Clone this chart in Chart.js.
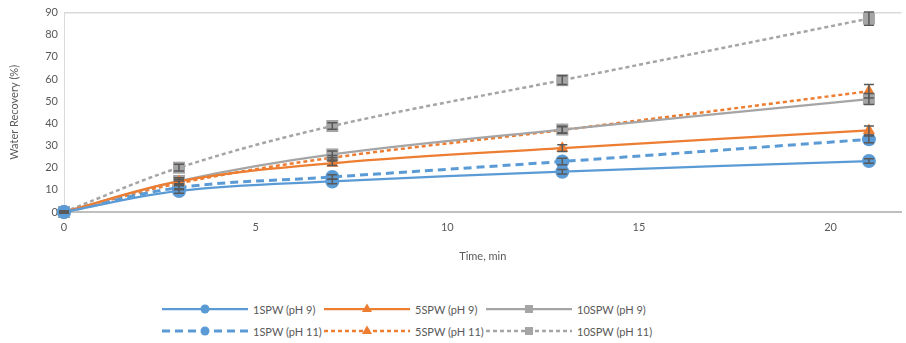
<!DOCTYPE html>
<html>
<head>
<meta charset="utf-8">
<script src="https://cdn.jsdelivr.net/npm/chart.js@4/dist/chart.umd.min.js"></script>
<style>
  body { margin: 0; background: #fff; font-family: Lato, "Liberation Sans", sans-serif; overflow: hidden; }
  #wrap { position: relative; width: 906px; height: 343px; overflow: hidden; }
  #box { position: absolute; left: 0; top: 0; width: 910px; height: 270px; }
  #legend { position: absolute; left: 162px; top: 301px; width: 600px; }
  .item { position: absolute; height: 16px; display: flex; align-items: center; font-size: 11px; color: #595959; white-space: nowrap; }
  .item canvas { margin-right: 5px; }
</style>
</head>
<body>
<div id="wrap">
  <div id="box"><canvas id="chart"></canvas></div>
  <div id="legend"></div>
</div>
<script>
// time points (min)
const time = [0, 3, 7, 13, 21];

// water recovery (%)
const spw1ph9 = [0, 9.5, 13.8, 18.2, 23];
const spw5ph9 = [0, 13.8, 22, 28.8, 36.8];
const spw10ph9 = [0, 14, 26, 37.2, 51];
const spw1ph11 = [0, 11, 15.8, 22.8, 32.8];
const spw5ph11 = [0, 13, 24.5, 37, 54.5];
const spw10ph11 = [0, 20, 38.8, 59.5, 87.3];

// error bar half-widths
const err1ph9 = [0.5, 1, 1, 1, 1];
const err5ph9 = [0.5, 1, 1, 1.5, 2];
const err10ph9 = [0.5, 1.5, 1.5, 1.5, 2.5];
const err1ph11 = [0.5, 1, 1, 1.5, 1.5];
const err5ph11 = [0.5, 1, 1, 1.5, 3];
const err10ph11 = [0.5, 1.5, 1.5, 2, 3];

const blue = "#5b9bd5", orange = "#ed7d31", gray = "#a5a5a5";

function series(label, values, errs, color, style, dash, width, radius) {
  return {
    label: label,
    data: time.map((t, i) => ({ x: t, y: values[i] })),
    errs: errs,
    borderColor: color,
    backgroundColor: color,
    borderWidth: width,
    borderDash: dash,
    pointStyle: style,
    pointRadius: radius,
    pointHoverRadius: radius,
    pointBorderWidth: 0,
    tension: 0.35,
    fill: false,
    clip: false,
  };
}

const datasets = [
  series("1SPW (pH 9)", spw1ph9, err1ph9, blue, "circle", [], 2.25, 7),
  series("5SPW (pH 9)", spw5ph9, err5ph9, orange, "triangle", [], 2.25, 7),
  series("10SPW (pH 9)", spw10ph9, err10ph9, gray, "rect", [], 2.25, 8.5),
  series("1SPW (pH 11)", spw1ph11, err1ph11, blue, "circle", [8, 5], 3, 7),
  series("5SPW (pH 11)", spw5ph11, err5ph11, orange, "triangle", [4, 3], 2.5, 7),
  series("10SPW (pH 11)", spw10ph11, err10ph11, gray, "rect", [4, 3], 2.5, 8.5),
];

// error bars drawn on top of the markers
const errorBars = {
  id: "errorBars",
  afterDatasetsDraw(chart) {
    const ctx = chart.ctx;
    const ys = chart.scales.y;
    ctx.save();
    ctx.strokeStyle = "#595959";
    ctx.lineWidth = 1.5;
    chart.data.datasets.forEach((ds, i) => {
      const meta = chart.getDatasetMeta(i);
      meta.data.forEach((pt, j) => {
        const v = ds.data[j].y, e = ds.errs[j];
        const top = ys.getPixelForValue(v + e);
        const bot = ys.getPixelForValue(v - e);
        ctx.beginPath();
        ctx.moveTo(pt.x, top); ctx.lineTo(pt.x, bot);
        ctx.moveTo(pt.x - 5, top); ctx.lineTo(pt.x + 5, top);
        ctx.moveTo(pt.x - 5, bot); ctx.lineTo(pt.x + 5, bot);
        ctx.stroke();
      });
    });
    ctx.restore();
  },
};

const tickFont = { family: "Lato, 'Liberation Sans', sans-serif", size: 11 };

new Chart(document.getElementById("chart"), {
  type: "line",
  data: { datasets: datasets },
  options: {
    responsive: true,
    maintainAspectRatio: false,
    animation: false,
    layout: { padding: { top: 10, right: 0, left: 0, bottom: 0 } },
    plugins: { legend: { display: false }, tooltip: { enabled: false } },
    scales: {
      x: {
        type: "linear",
        min: 0,
        max: 21.85,
        afterBuildTicks: (s) => { s.ticks = s.ticks.filter((t) => t.value % 5 === 0); },
        afterFit: (s) => { s.height = 58; },
        ticks: { stepSize: 5, color: "#595959", font: tickFont, padding: 9 },
        grid: { display: false, drawTicks: false },
        border: { color: "#bfbfbf", width: 2 },
        title: { display: true, text: "Time, min", color: "#595959", font: tickFont, padding: { top: 4, bottom: 7 } },
      },
      y: {
        min: 0,
        max: 90,
        afterFit: (s) => { s.width = 64; },
        ticks: { stepSize: 10, color: "#595959", font: tickFont, padding: 6 },
        grid: {
          drawTicks: false,
          color: (c) => (c.tick && c.tick.value === 90 ? "#d9d9d9" : "rgba(0,0,0,0)"),
          lineWidth: 1.5,
        },
        border: { color: "#d9d9d9", width: 1 },
        title: { display: true, text: "Water Recovery (%)", color: "#595959", font: tickFont, padding: { top: 8, bottom: 4 } },
      },
    },
  },
  plugins: [errorBars],
});

// legend: 3 columns, 2 rows
const legend = document.getElementById("legend");
datasets.forEach((ds, i) => {
  const item = document.createElement("div");
  item.className = "item";
  item.style.left = (i % 3) * 162 + "px";
  item.style.top = Math.floor(i / 3) * 22 + "px";
  const c = document.createElement("canvas");
  c.width = 86; c.height = 16;
  const g = c.getContext("2d");
  g.strokeStyle = ds.borderColor;
  g.lineWidth = ds.borderWidth;
  g.setLineDash(ds.borderDash);
  g.beginPath(); g.moveTo(0, 8); g.lineTo(86, 8); g.stroke();
  g.setLineDash([]);
  g.fillStyle = ds.backgroundColor;
  g.beginPath();
  if (ds.pointStyle === "circle") g.arc(43, 8, 4.5, 0, Math.PI * 2);
  else if (ds.pointStyle === "triangle") { g.moveTo(43, 2.5); g.lineTo(48, 11); g.lineTo(38, 11); g.closePath(); }
  else g.rect(39, 4, 8, 8);
  g.fill();
  item.appendChild(c);
  const span = document.createElement("span");
  span.textContent = ds.label;
  item.appendChild(span);
  legend.appendChild(item);
});
</script>
</body>
</html>
